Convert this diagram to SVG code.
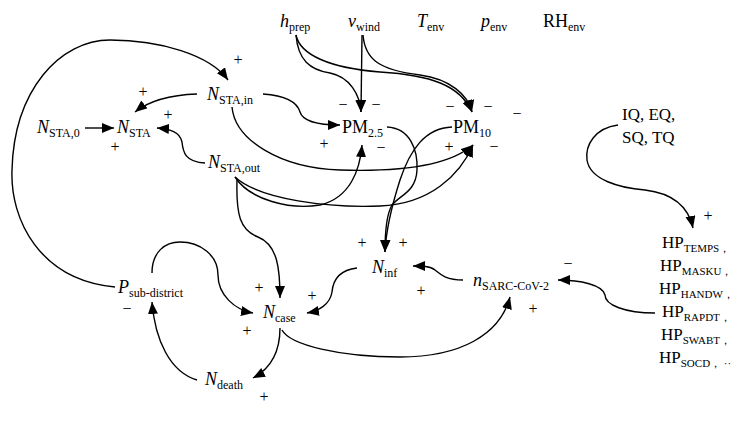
<svg xmlns="http://www.w3.org/2000/svg" width="739" height="421" viewBox="0 0 739 421" font-family="'Liberation Serif', 'Times New Roman', serif">
<defs>
<marker id="ah" markerUnits="userSpaceOnUse" markerWidth="13" markerHeight="11" refX="12" refY="5" orient="auto"><path d="M0,0 L12,5 L0,10 z" fill="#000"/></marker>
<style>
text{font-family:'Liberation Serif','Times New Roman',serif;fill:#000}
.v{font-size:18px}
.i{font-style:italic}
.s{font-size:12px;font-style:normal}
.hp{font-size:17px}
.hs{font-size:11px}
.sg{font-size:16px}
.c path{fill:none;stroke:#000;stroke-width:1.4;marker-end:url(#ah)}
</style>
</defs>
<rect width="739" height="421" fill="#fff"/>
<g class="c" id="connectors">
<path d="M85,128 L114,128"/>
<path d="M197,94 C170,95 150,100 135,112"/>
<path d="M205,163 C185,162 183,152 182,142 C180,132 170,129 157,128"/>
<path d="M115,287 C40,280 10,220 12,170 C14,90 60,40 110,40 C160,40 210,55 228,80"/>
<path d="M263,94 C290,96 298,105 300,112 C303,122 320,125 340,125"/>
<path d="M232,107 C235,140 280,168 340,170 C400,172 450,165 473,145"/>
<path d="M235,177 C250,200 290,210 320,205 C350,198 360,170 362,145"/>
<path d="M235,177 C260,200 330,208 380,206 C430,204 460,175 473,145"/>
<path d="M237,180 C236,215 240,230 258,237 C278,245 280,270 280,298"/>
<path d="M152,273 C152,252 165,242 180,242 C200,242 218,255 218,275 C218,295 235,310 253,313"/>
<path d="M197,380 C170,372 155,340 152,302"/>
<path d="M280,328 C280,355 268,370 253,378"/>
<path d="M282,330 C290,345 340,357 400,357 C460,357 500,335 510,297"/>
<path d="M357,268 C340,270 333,280 332,292 C330,305 318,311 307,313"/>
<path d="M463,280 C445,280 440,274 435,270 C430,266 422,266 413,266"/>
<path d="M655,313 C625,313 605,305 605,295 C603,285 580,280 558,280"/>
<path d="M618,125 C595,128 585,145 587,160 C590,180 620,188 645,190 C670,193 688,205 693,228"/>
<path d="M387,127 C410,128 418,150 417,170 C416,192 400,195 392,205 C386,215 385,235 385,252"/>
<path d="M452,127 C425,128 410,150 400,180 C392,205 386,230 385,252"/>
<path d="M296,35 C298,60 310,70 330,73 C350,77 360,95 361,112"/>
<path d="M296,35 C300,55 330,68 380,72 C430,75 460,85 472,112"/>
<path d="M362,35 L361,112"/>
<path d="M363,35 C365,60 380,70 420,75 C450,79 468,95 472,112"/>
</g>
<g id="h_prep"><text class="v i" x="280" y="27">h<tspan class="s" dy="4">prep</tspan></text></g>
<g id="v_wind"><text class="v i" x="348" y="27">v<tspan class="s" dy="4">wind</tspan></text></g>
<g id="T_env"><text class="v i" x="417" y="27">T<tspan class="s" dy="4">env</tspan></text></g>
<g id="p_env"><text class="v i" x="481" y="27">p<tspan class="s" dy="4">env</tspan></text></g>
<g id="RH_env"><text class="v" x="543" y="27">RH<tspan class="s" dy="4">env</tspan></text></g>
<g id="N_STA_in"><text class="v i" x="207" y="100">N<tspan class="s" dy="4">STA,in</tspan></text></g>
<g id="N_STA"><text class="v i" x="117" y="133">N<tspan class="s" dy="4">STA</tspan></text></g>
<g id="N_STA_0"><text class="v i" x="37" y="133">N<tspan class="s" dy="4">STA,0</tspan></text></g>
<g id="N_STA_out"><text class="v i" x="208" y="168">N<tspan class="s" dy="4">STA,out</tspan></text></g>
<g id="PM25"><text class="v" x="342" y="133">PM<tspan class="s" dy="4">2.5</tspan></text></g>
<g id="PM10"><text class="v" x="453" y="133">PM<tspan class="s" dy="4">10</tspan></text></g>
<g id="N_inf"><text class="v i" x="372" y="273">N<tspan class="s" dy="4">inf</tspan></text></g>
<g id="n_SARC"><text class="v i" x="473" y="286">n<tspan class="s" dy="4">SARC-CoV-2</tspan></text></g>
<g id="N_case"><text class="v i" x="263" y="318">N<tspan class="s" dy="4">case</tspan></text></g>
<g id="P_sub"><text class="v i" x="118" y="293">P<tspan class="s" dy="4">sub-district</tspan></text></g>
<g id="N_death"><text class="v i" x="205" y="385">N<tspan class="s" dy="4">death</tspan></text></g>
<g id="IQ"><text class="hp" x="622" y="120">IQ, EQ,</text><text class="hp" x="622" y="143">SQ, TQ</text></g>
<g id="HP">
<text class="hp" x="662" y="248">HP<tspan class="hs" dy="4">TEMPS，</tspan></text>
<text class="hp" x="660" y="271">HP<tspan class="hs" dy="4">MASKU，</tspan></text>
<text class="hp" x="659" y="294">HP<tspan class="hs" dy="4">HANDW，</tspan></text>
<text class="hp" x="662" y="317">HP<tspan class="hs" dy="4">RAPDT，</tspan></text>
<text class="hp" x="661" y="340">HP<tspan class="hs" dy="4">SWABT，</tspan></text>
<text class="hp" x="659" y="363">HP<tspan class="hs" dy="4">SOCD， ··</tspan></text>
</g>
<g id="signs" class="sg" text-anchor="middle">
<text class="sg" x="238" y="65">+</text>
<text class="sg" x="143" y="97">+</text>
<text class="sg" x="168" y="120">+</text>
<text class="sg" x="115" y="152">+</text>
<text class="sg" x="343" y="110">−</text>
<text class="sg" x="376" y="110">−</text>
<text class="sg" x="450" y="112">−</text>
<text class="sg" x="488" y="112">−</text>
<text class="sg" x="517" y="119">−</text>
<text class="sg" x="324" y="149">+</text>
<text class="sg" x="381" y="153">−</text>
<text class="sg" x="449" y="152">+</text>
<text class="sg" x="494" y="152">−</text>
<text class="sg" x="259" y="293">+</text>
<text class="sg" x="312" y="301">+</text>
<text class="sg" x="127" y="314">−</text>
<text class="sg" x="247" y="336">+</text>
<text class="sg" x="264" y="402">+</text>
<text class="sg" x="362" y="248">+</text>
<text class="sg" x="403" y="248">+</text>
<text class="sg" x="421" y="296">+</text>
<text class="sg" x="568" y="269">−</text>
<text class="sg" x="533" y="314">+</text>
<text class="sg" x="708" y="221">+</text>
</g>
</svg>
